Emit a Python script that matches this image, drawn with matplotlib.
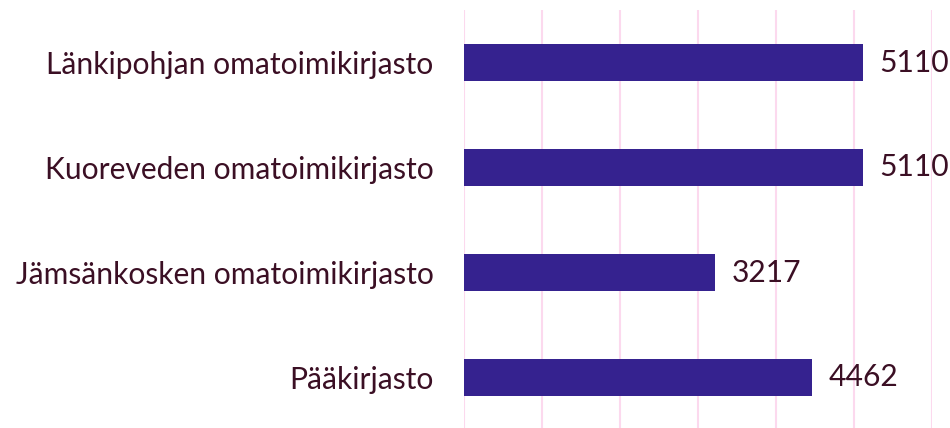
import matplotlib.pyplot as plt

categories = [
    "Länkipohjan omatoimikirjasto",
    "Kuoreveden omatoimikirjasto",
    "Jämsänkosken omatoimikirjasto",
    "Pääkirjasto",
]
values = [5110, 5110, 3217, 4462]

text_color = "#3b0f24"
bar_color = "#35228f"
grid_color = "#fcd9ee"

plt.rcParams["font.family"] = ["Lato", "DejaVu Sans"]

fig = plt.figure(figsize=(9.5, 4.28), dpi=100)
ax = fig.add_axes([464 / 950, -2 / 428, (932 - 464) / 950, 420 / 428])

y = list(range(len(categories)))
ax.barh(y, values, height=0.35, color=bar_color, zorder=2)
ax.set_ylim(len(categories) - 0.5, -0.5)
ax.set_xlim(0, 6000)
ax.set_xticks(range(0, 6001, 1000))
ax.xaxis.grid(True, color=grid_color, lw=1.5, zorder=0)
ax.tick_params(axis="x", length=0, labelbottom=False)
ax.tick_params(axis="y", length=0, pad=22, labelsize=21.6, labelcolor=text_color)
ax.set_yticks(y)
ax.set_yticklabels(categories)
for s in ax.spines.values():
    s.set_visible(False)

for yi, v in zip(y, values):
    ax.annotate(str(v), (v, yi), xytext=(12, 0), textcoords="offset points",
                va="center", ha="left", fontsize=21.6, color=text_color,
                annotation_clip=False)

fig.savefig("out.png", dpi=100)
